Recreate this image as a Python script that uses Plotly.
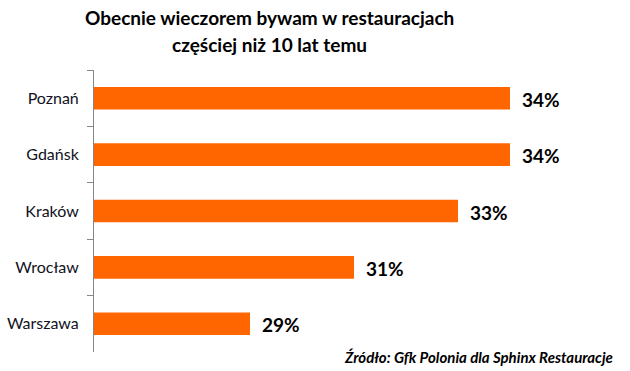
import plotly.graph_objects as go

cities = ["Poznań", "Gdańsk", "Kraków", "Wrocław", "Warszawa"]
values = [34, 34, 33, 31, 29]
value_labels = ["34%", "34%", "33%", "31%", "29%"]
title_lines = ["Obecnie wieczorem bywam w restauracjach", "częściej niż 10 lat temu"]
source = "Źródło: Gfk Polonia dla Sphinx Restauracje"

fig = go.Figure()
fig.add_trace(go.Bar(
    x=values, y=cities, orientation="h",
    marker=dict(color="#FF6600", line=dict(width=0)),
    hoverinfo="skip",
))

for c, v, t in zip(cities, values, value_labels):
    fig.add_annotation(x=v, y=c, xref="x", yref="y", text="<b>" + t + "</b>", showarrow=False,
                       xanchor="left", xshift=10, yshift=-1,
                       font=dict(family="Lato", size=19, color="#000000"))

fig.add_annotation(x=269, y=371 - 17, xref="paper", yref="paper", text="<b>" + title_lines[0] + "</b>",
                   showarrow=False, xanchor="center", yanchor="middle",
                   font=dict(family="Lato", size=19, color="#000000"))
fig.add_annotation(x=269, y=371 - 45, xref="paper", yref="paper", text="<b>" + title_lines[1] + "</b>",
                   showarrow=False, xanchor="center", yanchor="middle",
                   font=dict(family="Lato", size=19, color="#000000"))
fig.add_annotation(x=615, y=371 - 357, xref="paper", yref="paper", text="<b><i>" + source + "</i></b>",
                   showarrow=False, xanchor="right", yanchor="middle",
                   font=dict(family="Lato", size=15, color="#000000"))

# convert pixel annotation coords for paper refs
L, R, T, B = 94, 16, 70, 19
W, H = 630, 371
pw, ph = W - L - R, H - T - B
for a in fig.layout.annotations:
    if a.xref == "paper":
        a.x = (a.x - L) / pw
        a.y = (a.y - B) / ph

fig.update_layout(
    width=W, height=H,
    margin=dict(l=L, r=R, t=T, b=B, autoexpand=False),
    paper_bgcolor="white", plot_bgcolor="white",
    bargap=0.6, showlegend=False,
    xaxis=dict(range=[26, 36], visible=False, showgrid=False, zeroline=False),
    yaxis=dict(autorange="reversed", showline=True, linecolor="#868686", linewidth=1,
               ticks="outside", ticklen=6, tickcolor="#868686", tickson="boundaries",
               showgrid=False, ticklabelstandoff=11, automargin=False,
               tickfont=dict(family="Lato", size=16, color="#111122")),
)

fig.write_html("out.html", config={"displayModeBar": False},
               post_script="document.body.style.margin='0';document.body.style.overflow='hidden';")
